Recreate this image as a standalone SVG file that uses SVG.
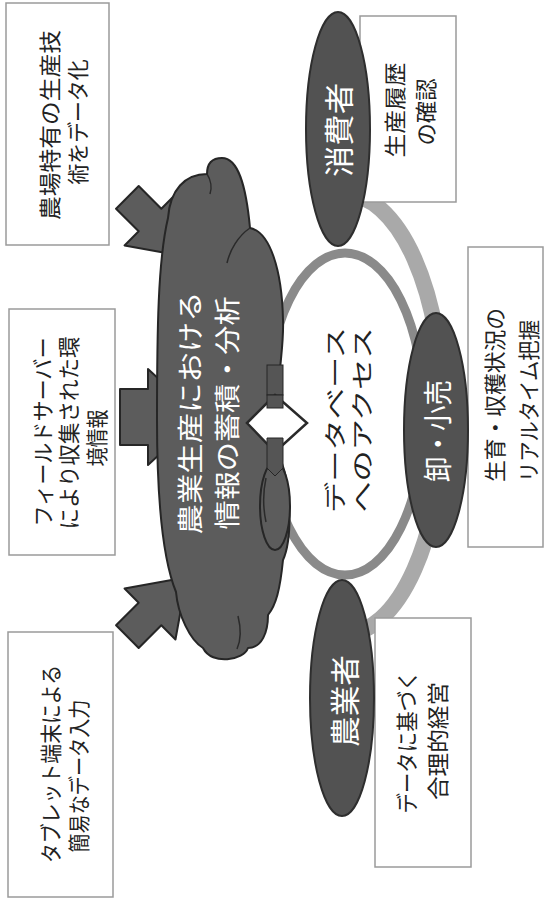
<svg xmlns="http://www.w3.org/2000/svg" width="546" height="900" viewBox="0 0 546 900">
<style>
.box{fill:#fff;stroke:#9a9a9a;stroke-width:1.5}
.t{font-family:"Noto Sans CJK JP","Noto Sans",sans-serif;fill:#222;text-anchor:middle;dominant-baseline:central;font-size:22px}
.w{font-family:"Noto Sans CJK JP","Noto Sans",sans-serif;fill:#fff;text-anchor:middle;dominant-baseline:central}
.dark{fill:#5c5c5c;stroke:#262626;stroke-width:2;stroke-linejoin:round}
.role{fill:#525252;stroke:#2e2e2e;stroke-width:2}
.crease{fill:none;stroke:#2a2a2a;stroke-width:1.5}
</style>
<defs>
<polygon id="blk" points="-32,-16 0,-16 0,-36 52,0 0,36 0,16 -32,16"/>
</defs>
<rect width="546" height="900" fill="#fff"/>

<g id="connectors">
<path d="M345 194 A98 220 0 0 1 345 634" fill="none" stroke="#a9a9a9" stroke-width="16"/>
</g>

<g id="ring">
<ellipse cx="345" cy="414" rx="79" ry="161" fill="#fff" stroke="#8a8a8a" stroke-width="9"/>
<text class="t" font-size="23" transform="translate(333,420) rotate(-90)" textLength="186" lengthAdjust="spacingAndGlyphs">データベース</text>
<text class="t" font-size="23" transform="translate(360,420) rotate(-90)" textLength="185" lengthAdjust="spacingAndGlyphs">へのアクセス</text>
</g>

<g id="box-tech">
<rect class="box" x="6" y="3" width="103" height="242"/>
<text class="t" transform="translate(48,125) rotate(-90)" textLength="190" lengthAdjust="spacingAndGlyphs">農場特有の生産技</text>
<text class="t" transform="translate(76,122) rotate(-90)" textLength="125" lengthAdjust="spacingAndGlyphs">術をデータ化</text>
</g>
<g id="box-field">
<rect class="box" x="9" y="309" width="106" height="246"/>
<text class="t" transform="translate(41,432) rotate(-90)" textLength="189" lengthAdjust="spacingAndGlyphs">フィールドサーバー</text>
<text class="t" transform="translate(67,433) rotate(-90)" textLength="193" lengthAdjust="spacingAndGlyphs">により収集された環</text>
<text class="t" transform="translate(95,438) rotate(-90)" textLength="57" lengthAdjust="spacingAndGlyphs">境情報</text>
</g>
<g id="box-tablet">
<rect class="box" x="8" y="632" width="105" height="265"/>
<text class="t" transform="translate(49,764) rotate(-90)" textLength="198" lengthAdjust="spacingAndGlyphs">タブレット端末による</text>
<text class="t" transform="translate(77,776) rotate(-90)" textLength="153" lengthAdjust="spacingAndGlyphs">簡易なデータ入力</text>
</g>
<g id="box-history">
<rect class="box" x="360" y="16" width="96" height="186"/>
<text class="t" transform="translate(393,110) rotate(-90)" textLength="95" lengthAdjust="spacingAndGlyphs">生産履歴</text>
<text class="t" transform="translate(424,112) rotate(-90)" textLength="67" lengthAdjust="spacingAndGlyphs">の確認</text>
</g>
<g id="box-realtime">
<rect class="box" x="468" y="247" width="75" height="300"/>
<text class="t" transform="translate(493,395) rotate(-90)" textLength="174" lengthAdjust="spacingAndGlyphs">生育・収穫状況の</text>
<text class="t" transform="translate(527,401) rotate(-90)" textLength="162" lengthAdjust="spacingAndGlyphs">リアルタイム把握</text>
</g>
<g id="box-management">
<rect class="box" x="375" y="618" width="96" height="249"/>
<text class="t" transform="translate(405,742) rotate(-90)" textLength="143" lengthAdjust="spacingAndGlyphs">データに基づく</text>
<text class="t" transform="translate(436,741) rotate(-90)" textLength="118" lengthAdjust="spacingAndGlyphs">合理的経営</text>
</g>

<g id="arrows-in">
<use href="#blk" class="dark" transform="translate(150,220) rotate(45)"/>
<polygon class="dark" points="120,389 148,389 148,369 200,417 148,465 148,445 120,445"/>
<use href="#blk" class="dark" transform="translate(150,614) rotate(-45)"/>
</g>

<g id="cloud">
<path class="dark" d="M168 218 C170 190 185 174 207 174 C207 162 214 158 222 158 C238 158 246 185 250 228 C270 232 282 270 283 320 C284 345 279 365 279 390 L281 460 C292 490 292 540 283 560 C280 590 276 605 268 615 C268 632 262 648 248 648 C244 660 212 666 203 648 C190 640 178 615 176 592 C163 560 157 500 157 420 C157 330 158 260 168 218 Z"/>
<path class="crease" d="M207 174 C211 180 212 188 210 194"/>
<path class="crease" d="M250 228 C238 236 230 250 227 263"/>
<path class="crease" d="M238 616 C241 628 241 640 237 649"/>
<ellipse class="dark" cx="275" cy="506" rx="15" ry="44"/>
<path class="crease" d="M266 478 C263 492 263 508 266 522"/>
<text class="w" font-size="26" transform="translate(188,413) rotate(-90)" textLength="243" lengthAdjust="spacingAndGlyphs">農業生産における</text>
<text class="w" font-size="26" transform="translate(225,413) rotate(-90)" textLength="233" lengthAdjust="spacingAndGlyphs">情報の蓄積・分析</text>
</g>

<g id="exchange-arrow">
<rect x="267" y="365" width="16" height="30" fill="#555" stroke="#262626" stroke-width="1"/>
<polygon points="247,423 275,395 307,423 275,452" fill="#fff" stroke="#2a2a2a" stroke-width="2.5" stroke-linejoin="miter"/>
<rect x="267" y="395" width="16" height="13" fill="#555" stroke="#262626" stroke-width="1"/>
<path d="M267 438 L283 438 L283 468 L275 476 L267 468 Z" fill="#555" stroke="#262626" stroke-width="1"/>
</g>

<g id="consumer">
<ellipse class="role" cx="338" cy="129" rx="32" ry="117"/>
<text class="w" font-size="30" transform="translate(337,130) rotate(-90)" textLength="94" lengthAdjust="spacingAndGlyphs">消費者</text>
</g>
<g id="retail">
<ellipse class="role" cx="436" cy="430" rx="32" ry="117"/>
<text class="w" font-size="29" transform="translate(436,431) rotate(-90)" textLength="102" lengthAdjust="spacingAndGlyphs">卸・小売</text>
</g>
<g id="farmer">
<ellipse class="role" cx="342" cy="698" rx="32" ry="118"/>
<text class="w" font-size="30" transform="translate(343,701) rotate(-90)" textLength="92" lengthAdjust="spacingAndGlyphs">農業者</text>
</g>
</svg>
